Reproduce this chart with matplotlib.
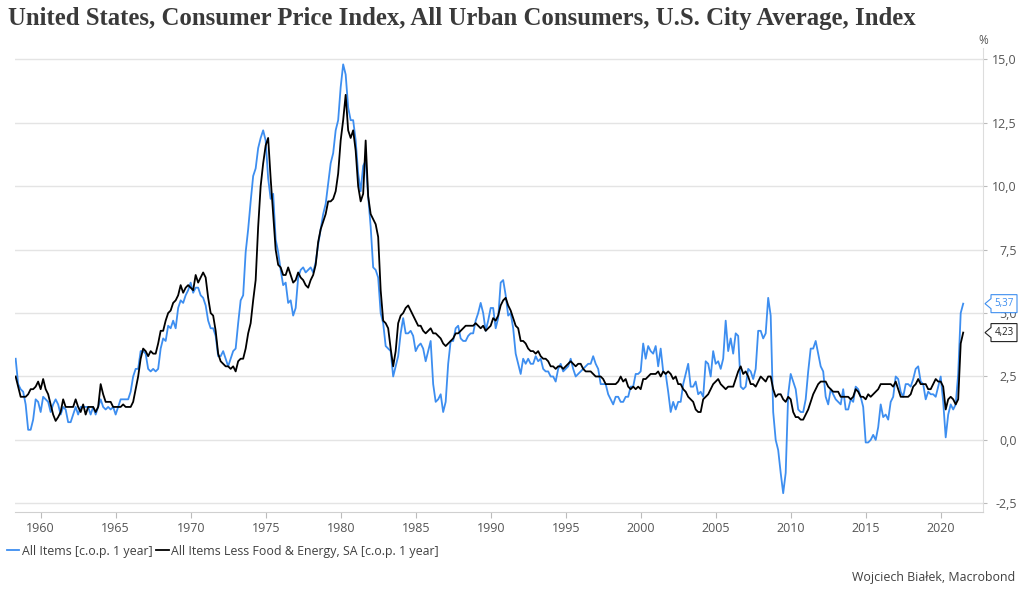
import numpy as np
import pandas as pd
import matplotlib
matplotlib.use("Agg")
import matplotlib.pyplot as plt
import matplotlib.transforms as mtransforms
from matplotlib.patches import Polygon

# ---------------- data (bimonthly: Jan, Mar, May, Jul, Sep, Nov) ----------------
dates = pd.date_range("1958-05-01", "2021-07-01", freq="2MS")

all_items = [
    3.2, 2.2, 2.0, 1.9,                      # 1958 (May..Nov)
    1.4, 0.4, 0.4, 0.8, 1.6, 1.5,            # 1959
    1.1, 1.7, 1.6, 1.5, 1.1, 1.4,            # 1960
    1.6, 1.4, 1.0, 1.3, 1.2, 0.7,            # 1961
    0.7, 1.0, 1.3, 1.0, 1.3, 1.3,            # 1962
    1.3, 1.3, 1.0, 1.3, 1.0, 1.3,            # 1963
    1.6, 1.3, 1.2, 1.3, 1.2, 1.3,            # 1964
    1.0, 1.3, 1.6, 1.6, 1.6, 1.6,            # 1965
    1.9, 2.5, 2.8, 2.8, 3.5, 3.5,            # 1966
    3.4, 2.8, 2.7, 2.8, 2.7, 2.8,            # 1967
    3.6, 4.0, 3.9, 4.5, 4.4, 4.7,            # 1968
    4.4, 5.2, 5.5, 5.4, 5.7, 5.9,            # 1969
    6.2, 5.8, 6.0, 6.0, 5.7, 5.6,            # 1970
    5.3, 4.7, 4.4, 4.4, 4.1, 3.3,            # 1971
    3.3, 3.5, 3.2, 2.9, 3.2, 3.5,            # 1972
    3.6, 4.6, 5.5, 5.7, 7.4, 8.3,            # 1973
    9.4, 10.4, 10.7, 11.5, 11.9, 12.2,       # 1974
    11.8, 10.3, 9.5, 9.7, 7.9, 7.4,          # 1975
    6.7, 6.1, 6.2, 5.4, 5.5, 4.9,            # 1976
    5.2, 6.4, 6.7, 6.8, 6.6, 6.7,            # 1977
    6.8, 6.6, 7.0, 7.7, 8.3, 8.9,            # 1978
    9.3, 10.1, 10.9, 11.3, 12.2, 12.6,       # 1979
    13.9, 14.8, 14.4, 13.1, 12.6, 12.6,      # 1980
    11.8, 10.5, 9.8, 10.8, 11.0, 9.6,        # 1981
    8.4, 6.8, 6.7, 6.4, 5.0, 4.6,            # 1982
    3.7, 3.6, 3.5, 2.5, 2.9, 3.3,            # 1983
    4.2, 4.8, 4.2, 4.2, 4.3, 4.1,            # 1984
    3.5, 3.7, 3.8, 3.6, 3.1, 3.5,            # 1985
    3.9, 2.2, 1.5, 1.6, 1.8, 1.1,            # 1986
    1.5, 3.0, 3.9, 3.9, 4.4, 4.5,            # 1987
    4.0, 3.9, 3.9, 4.1, 4.2, 4.2,            # 1988
    4.7, 5.0, 5.4, 5.0, 4.3, 4.7,            # 1989
    5.2, 5.2, 4.4, 4.8, 6.2, 6.3,            # 1990
    5.7, 4.9, 5.0, 4.4, 3.4, 3.0,            # 1991
    2.6, 3.2, 3.0, 3.2, 3.0, 3.0,            # 1992
    3.3, 3.1, 3.2, 2.8, 2.7, 2.7,            # 1993
    2.5, 2.5, 2.3, 2.8, 3.0, 2.7,            # 1994
    2.8, 2.9, 3.2, 2.8, 2.5, 2.6,            # 1995
    2.7, 2.8, 2.9, 3.0, 3.0, 3.3,            # 1996
    3.0, 2.8, 2.2, 2.2, 2.2, 1.8,            # 1997
    1.6, 1.4, 1.7, 1.7, 1.5, 1.5,            # 1998
    1.7, 1.7, 2.1, 2.1, 2.6, 2.6,            # 1999
    2.7, 3.8, 3.2, 3.7, 3.5, 3.4,            # 2000
    3.7, 2.9, 3.6, 2.7, 2.6, 1.9,            # 2001
    1.1, 1.5, 1.2, 1.5, 1.5, 2.2,            # 2002
    2.6, 3.0, 2.1, 2.1, 2.3, 1.8,            # 2003
    1.9, 1.7, 3.1, 3.0, 2.5, 3.5,            # 2004
    3.0, 3.1, 2.8, 3.2, 4.7, 3.5,            # 2005
    4.0, 3.4, 4.2, 4.1, 2.1, 2.0,            # 2006
    2.1, 2.8, 2.7, 2.4, 2.8, 4.3,            # 2007
    4.3, 4.0, 4.2, 5.6, 4.9, 1.1,            # 2008
    0.0, -0.4, -1.3, -2.1, -1.3, 1.8,        # 2009
    2.6, 2.3, 2.0, 1.2, 1.1, 1.1,            # 2010
    1.6, 2.7, 3.6, 3.6, 3.9, 3.4,            # 2011
    2.9, 2.7, 1.7, 1.4, 2.0, 1.8,            # 2012
    1.6, 1.5, 1.4, 2.0, 1.2, 1.2,            # 2013
    1.6, 1.5, 2.1, 2.0, 1.7, 1.3,            # 2014
    -0.1, -0.1, 0.0, 0.2, 0.0, 0.5,          # 2015
    1.4, 0.9, 1.0, 0.8, 1.5, 1.7,            # 2016
    2.5, 2.4, 1.9, 1.7, 2.2, 2.2,            # 2017
    2.1, 2.4, 2.8, 2.9, 2.3, 2.2,            # 2018
    1.6, 1.9, 1.8, 1.8, 1.7, 2.1,            # 2019
    2.5, 1.5, 0.1, 1.0, 1.4, 1.2,            # 2020
    1.4, 2.6, 5.0, 5.37,                     # 2021 (Jan..Jul)
]

core = [
    2.5, 2.1, 1.7, 1.7,                      # 1958
    1.7, 1.8, 2.0, 2.0, 2.1, 2.3,            # 1959
    2.0, 2.4, 2.0, 1.8, 1.4, 1.0,            # 1960
    0.75, 0.9, 1.1, 1.6, 1.3, 1.3,           # 1961
    1.3, 1.3, 1.6, 1.3, 1.1, 1.4,            # 1962
    1.0, 1.3, 1.3, 1.3, 1.1, 1.3,            # 1963
    2.2, 1.8, 1.5, 1.5, 1.5, 1.3,            # 1964
    1.3, 1.3, 1.3, 1.4, 1.3, 1.3,            # 1965
    1.3, 1.5, 2.0, 2.5, 3.2, 3.6,            # 1966
    3.5, 3.3, 3.5, 3.4, 3.4, 3.8,            # 1967
    4.3, 4.3, 4.7, 5.0, 5.1, 5.4,            # 1968
    5.5, 5.7, 6.1, 5.8, 6.0, 6.1,            # 1969
    6.0, 5.9, 6.5, 6.2, 6.4, 6.6,            # 1970
    6.4, 5.6, 5.0, 4.9, 4.3, 3.4,            # 1971
    3.1, 3.0, 2.9, 2.9, 2.8, 2.9,            # 1972
    2.7, 3.1, 3.2, 3.2, 3.6, 4.2,            # 1973
    4.6, 5.5, 6.3, 8.4, 10.0, 10.9,          # 1974
    11.6, 11.9, 10.3, 8.9, 7.5, 6.9,         # 1975
    6.8, 6.5, 6.5, 6.8, 6.5, 6.2,            # 1976
    6.3, 6.6, 6.4, 6.3, 6.1, 6.0,            # 1977
    6.3, 6.5, 6.9, 7.8, 8.3, 8.6,            # 1978
    8.9, 9.4, 9.4, 9.5, 9.8, 10.5,           # 1979
    11.8, 12.6, 13.6, 12.2, 11.9, 12.2,      # 1980
    11.4, 10.0, 9.4, 9.7, 11.8, 9.6,         # 1981
    8.9, 8.7, 8.5, 8.0, 5.9, 4.7,            # 1982
    4.6, 4.4, 3.6, 2.9, 3.5, 4.6,            # 1983
    4.9, 5.0, 5.2, 5.3, 5.1, 4.9,            # 1984
    4.7, 4.5, 4.5, 4.3, 4.2, 4.3,            # 1985
    4.4, 4.2, 4.2, 4.1, 4.0, 3.8,            # 1986
    3.7, 3.8, 3.9, 4.0, 4.2, 4.2,            # 1987
    4.3, 4.4, 4.5, 4.5, 4.5, 4.5,            # 1988
    4.6, 4.5, 4.4, 4.5, 4.3, 4.4,            # 1989
    4.5, 4.8, 4.7, 4.9, 5.3, 5.5,            # 1990
    5.6, 5.3, 5.1, 4.8, 4.5, 4.4,            # 1991
    3.9, 3.9, 3.8, 3.6, 3.5, 3.5,            # 1992
    3.4, 3.5, 3.3, 3.2, 3.2, 3.1,            # 1993
    2.9, 2.9, 2.8, 2.9, 2.9, 2.8,            # 1994
    2.9, 3.0, 3.1, 3.0, 2.9, 3.0,            # 1995
    3.0, 2.8, 2.7, 2.7, 2.7, 2.6,            # 1996
    2.5, 2.5, 2.5, 2.4, 2.2, 2.2,            # 1997
    2.2, 2.2, 2.2, 2.3, 2.5, 2.3,            # 1998
    2.4, 2.1, 2.0, 2.1, 2.0, 2.1,            # 1999
    2.0, 2.4, 2.4, 2.5, 2.6, 2.6,            # 2000
    2.6, 2.7, 2.5, 2.7, 2.6, 2.7,            # 2001
    2.6, 2.4, 2.5, 2.2, 2.2, 2.0,            # 2002
    1.9, 1.7, 1.6, 1.5, 1.2, 1.1,            # 2003
    1.1, 1.6, 1.7, 1.8, 2.0, 2.2,            # 2004
    2.3, 2.4, 2.2, 2.1, 2.0, 2.1,            # 2005
    2.1, 2.1, 2.4, 2.7, 2.9, 2.6,            # 2006
    2.7, 2.5, 2.2, 2.2, 2.1, 2.3,            # 2007
    2.5, 2.4, 2.3, 2.5, 2.5, 2.0,            # 2008
    1.7, 1.8, 1.8, 1.6, 1.5, 1.7,            # 2009
    1.6, 1.1, 0.9, 0.9, 0.8, 0.8,            # 2010
    1.0, 1.2, 1.5, 1.8, 2.0, 2.2,            # 2011
    2.3, 2.3, 2.3, 2.1, 2.0, 1.9,            # 2012
    1.9, 1.9, 1.7, 1.7, 1.7, 1.7,            # 2013
    1.6, 1.7, 2.0, 1.9, 1.7, 1.7,            # 2014
    1.6, 1.8, 1.7, 1.8, 1.9, 2.0,            # 2015
    2.2, 2.2, 2.2, 2.2, 2.2, 2.1,            # 2016
    2.3, 2.0, 1.7, 1.7, 1.7, 1.7,            # 2017
    1.8, 2.1, 2.2, 2.4, 2.2, 2.2,            # 2018
    2.2, 2.0, 2.0, 2.2, 2.4, 2.3,            # 2019
    2.3, 2.1, 1.2, 1.6, 1.7, 1.6,            # 2020
    1.4, 1.6, 3.8, 4.23,                     # 2021
]

ytick_vals = [-2.5, 0.0, 2.5, 5.0, 7.5, 10.0, 12.5, 15.0]
xtick_years = [1960, 1965, 1970, 1975, 1980, 1985, 1990, 1995, 2000, 2005, 2010, 2015, 2020]

title = "United States, Consumer Price Index, All Urban Consumers, U.S. City Average, Index"
label_all = "All Items [c.o.p. 1 year]"
label_core = "All Items Less Food & Energy, SA [c.o.p. 1 year]"
source = "Wojciech Białek, Macrobond"

BLUE = "#3d8ef0"
BLACK = "#000000"
GRAY_TXT = "#555555"

# ---------------- figure ----------------
W, H = 1024, 594
fig = plt.figure(figsize=(W / 100, H / 100), dpi=100)
fig.patch.set_facecolor("white")
plt.rcParams["font.family"] = ["Open Sans", "DejaVu Sans"]

ax_l, ax_r, ax_b, ax_t = 15, 983, 512, 48
ax = fig.add_axes([ax_l / W, 1 - ax_b / H, (ax_r - ax_l) / W, (ax_b - ax_t) / H])

t = dates.year + (dates.month - 1) / 12.0
ax.plot(t, all_items, color=BLUE, lw=1.3, label=label_all, zorder=3)
ax.plot(t, core, color=BLACK, lw=1.3, label=label_core, zorder=4)

ax.set_xlim(1958.29, 2022.82)
ax.set_ylim(-2.84, 15.445)

# y axis on right
ax.yaxis.tick_right()
ax.set_yticks(ytick_vals)
ax.set_yticklabels([f"{v:.1f}".replace(".", ",") for v in ytick_vals])
for lab in ax.get_yticklabels():
    lab.set_horizontalalignment("right")
ax.tick_params(axis="y", which="both", length=3, width=0.8, color="#bbbbbb",
               labelsize=9, labelcolor=GRAY_TXT, pad=21.5)
ax.grid(axis="y", color="#e4e4e4", lw=1.0, zorder=0)
ax.grid(axis="x", visible=False)

ax.set_xticks(xtick_years)
ax.set_xticklabels([str(y) for y in xtick_years])
ax.tick_params(axis="x", length=4, width=0.8, color="#bbbbbb", labelsize=9,
               labelcolor=GRAY_TXT, pad=3)

for s in ["top", "left"]:
    ax.spines[s].set_visible(False)
ax.spines["bottom"].set_color("#d0d0d0")
ax.spines["right"].set_color("#dddddd")
ax.spines["bottom"].set_linewidth(0.8)
ax.spines["right"].set_linewidth(0.8)

# value tags at right
base = mtransforms.blended_transform_factory(ax.transAxes, ax.transData)
def tag(val, text, color):
    tr = fig.dpi_scale_trans + mtransforms.ScaledTranslation(1.0, val, base)
    verts = np.array([(2, 0), (8, 5), (8, 9), (34, 9), (34, -9), (8, -9), (8, -5)]) / 100.0
    poly = Polygon(verts, closed=True, transform=tr, facecolor="white",
                   edgecolor=color, lw=0.8, clip_on=False, zorder=10)
    fig.add_artist(poly)
    txt = fig.text(21 / 100.0, 0, text, transform=tr, fontsize=7, color=color,
                   ha="center", va="center", zorder=11)
    return txt

tag(all_items[-1], f"{all_items[-1]:.2f}".replace(".", ","), BLUE)
tag(core[-1], f"{core[-1]:.2f}".replace(".", ","), "#222222")

# title
fig.text(8 / W, 1 - 19 / H, title, fontsize=17.8, fontweight="bold",
         family=["Liberation Serif", "DejaVu Serif"], color="#3a3a3a",
         ha="left", va="center")

# % label
fig.text(983 / W, 1 - 41 / H, "%", fontsize=8.5, color=GRAY_TXT, ha="center", va="center")

# legend
fig.legend(loc="center left", bbox_to_anchor=(7 / W, 1 - 551 / H), ncol=2,
           frameon=False, fontsize=8.9, handlelength=1.0, handletextpad=0.2,
           columnspacing=0.3, borderpad=0, borderaxespad=0, labelcolor="#404040")

# source
fig.text(1015 / W, 1 - 577 / H, source, fontsize=8.9, color="#404040", ha="right", va="center")

fig.savefig("out.png", dpi=100, facecolor="white")
